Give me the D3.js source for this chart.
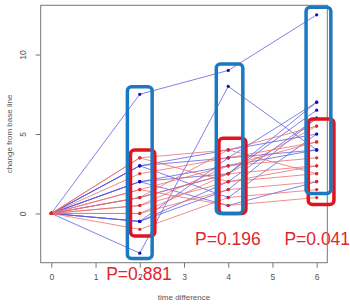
<!DOCTYPE html>
<html>
<head>
<meta charset="utf-8">
<script src="https://cdn.jsdelivr.net/npm/d3@7"></script>
<style>
  body { margin: 0; background: #fff; }
  text { font-family: "Liberation Sans", Arial, sans-serif; }
</style>
</head>
<body>
<svg width="350" height="305"></svg>
<script>
const times = [0, 2, 4, 6];
const xTicks = [0, 1, 2, 3, 4, 5, 6];
const yTicks = [0, 5, 10];

// change from baseline at time 0, 2, 4, 6
const redSeries = [
  [0, 3.5, 4.0, 5.5],
  [0, 2.5, 3.5, 4.5],
  [0, 1.5, 3.0, 3.5],
  [0, 1.0, 2.5, 3.0],
  [0, 0.5, 2.0, 2.5],
  [0, 0.0, 1.5, 2.0],
  [0, -1.0, 1.0, 1.5],
  [0, 1.5, 0.5, 1.0],
  [0, 0.5, 3.0, 4.5],
  [0, 3.5, 2.0, 3.0],
  [0, 1.0, 4.0, 2.5],
  [0, 0.0, 2.5, 5.5]
];
const blueSeries = [
  [0, 7.5, 9.0, 12.5],
  [0, -2.5, 8.0, 4.0],
  [0, 3.0, 3.5, 7.0],
  [0, 2.0, 2.5, 6.5],
  [0, -0.5, 1.5, 6.0],
  [0, 3.0, 1.0, 5.0],
  [0, 2.0, 3.0, 4.0],
  [0, -0.5, 2.0, 6.0],
  [0, 3.0, 4.0, 5.0],
  [0, 2.0, 0.5, 2.0],
  [0, 1.0, 2.5, 7.0],
  [0, -0.5, 3.5, 4.0]
];

// annotation boxes: [time from, time to, value top, value bottom]
const blueBoxes = [[1.72, 2.28, 7.97, -2.83], [3.73, 4.33, 9.4, 0.0], [5.76, 6.32, 12.97, 1.26]];
const redBoxes = [[1.79, 2.34, 3.99, -1.42], [3.79, 4.4, 4.73, 0.0], [5.81, 6.39, 5.94, 0.56]];
const pLabels = [["P=0.881", 1.24, -4.18], ["P=0.196", 3.25, -2.0], ["P=0.041", 5.27, -2.0]];

const svg = d3.select("svg");
const plotLeft = 40.7, plotRight = 327.3, plotTop = 5.3, plotBottom = 262.7;

const x = d3.scaleLinear().domain([-0.24, 6.24]).range([plotLeft, plotRight]);
const y = d3.scaleLinear().domain([-3.1, 13.1]).range([plotBottom, plotTop]);

const line = d3.line()
  .x((d, i) => x(times[i]))
  .y(d => y(d));

// axes
svg.append("g")
  .attr("transform", `translate(0,${plotBottom})`)
  .call(d3.axisBottom(x).tickValues(xTicks).tickSize(5).tickPadding(6).tickFormat(d3.format("d")))
  .call(g => g.select(".domain").remove())
  .call(g => g.selectAll("line").attr("stroke", "#777"))
  .call(g => g.selectAll("text").attr("fill", "#555").attr("font-size", 8.5));

const yAxis = svg.append("g")
  .attr("transform", `translate(${plotLeft},0)`)
  .call(d3.axisLeft(y).tickValues(yTicks).tickSize(5).tickFormat(d3.format("d")))
  .call(g => g.select(".domain").remove())
  .call(g => g.selectAll("line").attr("stroke", "#777"));
yAxis.selectAll("text")
  .attr("fill", "#555")
  .attr("font-size", 8.5)
  .attr("text-anchor", "middle")
  .attr("dy", null)
  .attr("x", null)
  .attr("transform", "translate(-15,0) rotate(-90)");

svg.append("text")
  .attr("transform", `translate(12,${(plotTop + plotBottom) / 2}) rotate(-90)`)
  .attr("text-anchor", "middle")
  .attr("fill", "#555")
  .attr("font-size", 8)
  .text("change from base line");

svg.append("text")
  .attr("x", (plotLeft + plotRight) / 2)
  .attr("y", 300)
  .attr("text-anchor", "middle")
  .attr("fill", "#555")
  .attr("font-size", 8)
  .text("time difference");

// subject lines
svg.append("g")
  .selectAll("path")
  .data(blueSeries)
  .join("path")
  .attr("d", line)
  .attr("fill", "none")
  .attr("stroke", "#5a5ae0")
  .attr("stroke-width", 0.9)
  .attr("opacity", 0.85);

svg.append("g")
  .selectAll("path")
  .data(redSeries)
  .join("path")
  .attr("d", line)
  .attr("fill", "none")
  .attr("stroke", "#e86a6a")
  .attr("stroke-width", 0.9)
  .attr("opacity", 0.85);

// points
const pts = (series) => series.flatMap(s => s.map((v, i) => [times[i], v]));

svg.append("g")
  .selectAll("circle")
  .data(pts(blueSeries))
  .join("circle")
  .attr("cx", d => x(d[0]))
  .attr("cy", d => y(d[1]))
  .attr("r", 1.6)
  .attr("fill", "#1010c8");

svg.append("g")
  .selectAll("circle")
  .data(pts(redSeries))
  .join("circle")
  .attr("cx", d => x(d[0]))
  .attr("cy", d => y(d[1]))
  .attr("r", 1.6)
  .attr("fill", "#e02a2a");

// p-values
svg.append("g")
  .selectAll("text")
  .data(pLabels)
  .join("text")
  .attr("x", d => x(d[1]))
  .attr("y", d => y(d[2]))
  .attr("fill", "#e0262c")
  .attr("font-size", 17.5)
  .text(d => d[0]);

// plot frame
svg.append("rect")
  .attr("x", plotLeft)
  .attr("y", plotTop)
  .attr("width", plotRight - plotLeft)
  .attr("height", plotBottom - plotTop)
  .attr("fill", "none")
  .attr("stroke", "#777")
  .attr("stroke-width", 1);

// highlight boxes
const drawBoxes = (boxes, color) => svg.append("g")
  .selectAll("rect")
  .data(boxes)
  .join("rect")
  .attr("x", d => x(d[0]))
  .attr("y", d => y(d[2]))
  .attr("width", d => x(d[1]) - x(d[0]))
  .attr("height", d => y(d[3]) - y(d[2]))
  .attr("rx", 4)
  .attr("fill", "none")
  .attr("stroke", color)
  .attr("stroke-width", 3.5);

drawBoxes(redBoxes, "#e0141c");
drawBoxes(blueBoxes, "#1c78c0");
</script>
</body>
</html>
